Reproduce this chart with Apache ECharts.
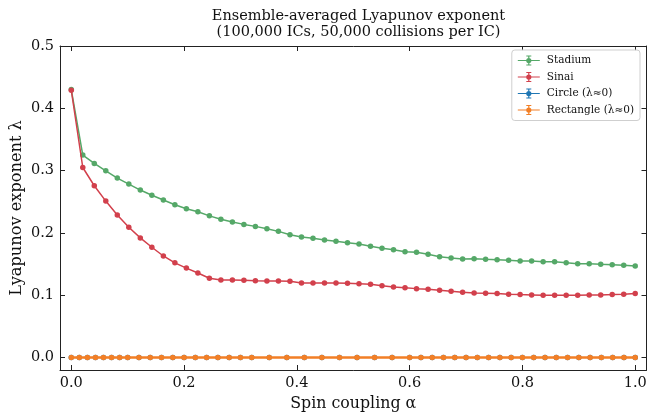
<!DOCTYPE html>
<html>
<head>
<meta charset="utf-8">
<script src="https://cdn.jsdelivr.net/npm/echarts@6/dist/echarts.min.js"></script>
<style>
  html, body { margin: 0; padding: 0; background: #fff; }
  #chart { width: 648px; height: 414px; }
</style>
</head>
<body>
<div id="chart"></div>
<script>
// Coupling grid for the chaotic tables (Stadium, Sinai)
const alphaChaotic = [
  0.0000, 0.0204, 0.0408, 0.0612, 0.0816, 0.1020, 0.1224, 0.1429, 0.1633, 0.1837,
  0.2041, 0.2245, 0.2449, 0.2653, 0.2857, 0.3061, 0.3265, 0.3469, 0.3673, 0.3878,
  0.4082, 0.4286, 0.4490, 0.4694, 0.4898, 0.5102, 0.5306, 0.5510, 0.5714, 0.5918,
  0.6122, 0.6327, 0.6531, 0.6735, 0.6939, 0.7143, 0.7347, 0.7551, 0.7755, 0.7959,
  0.8163, 0.8367, 0.8571, 0.8776, 0.8980, 0.9184, 0.9388, 0.9592, 0.9796, 1.0000
];

// Coupling grid for the integrable tables (Circle, Rectangle)
const alphaIntegrable = [
  0.0000, 0.0143, 0.0286, 0.0429, 0.0571, 0.0714, 0.0857, 0.1000,
  0.12, 0.14, 0.16, 0.18, 0.20, 0.22, 0.24, 0.26, 0.28, 0.30, 0.32,
  0.3511, 0.3822, 0.4133, 0.4444, 0.4756, 0.5067, 0.5378, 0.5689, 0.6000,
  0.62, 0.64, 0.66, 0.68, 0.70, 0.72, 0.74, 0.76, 0.78, 0.80,
  0.82, 0.84, 0.86, 0.88, 0.90, 0.92, 0.94, 0.96, 0.98, 1.00
];

const lambdaStadium = [
  0.430, 0.325, 0.3115, 0.2997, 0.2880, 0.2784, 0.2688, 0.2604, 0.2528, 0.2453,
  0.2388, 0.2340, 0.2274, 0.2218, 0.2175, 0.2137, 0.2105, 0.2067, 0.2025, 0.1971,
  0.1934, 0.1913, 0.1886, 0.1865, 0.1843, 0.1822, 0.1785, 0.1753, 0.1731, 0.1699,
  0.1689, 0.1657, 0.1619, 0.1598, 0.1582, 0.1587, 0.1577, 0.1571, 0.1561, 0.1550,
  0.1550, 0.1538, 0.1538, 0.1522, 0.1506, 0.1506, 0.1497, 0.1490, 0.1481, 0.1470
];

const lambdaSinai = [
  0.429, 0.305, 0.2757, 0.2511, 0.2287, 0.2090, 0.1920, 0.1770, 0.1630, 0.1520,
  0.1436, 0.1356, 0.1272, 0.1245, 0.1245, 0.1240, 0.1234, 0.1229, 0.1229, 0.1224,
  0.1197, 0.1197, 0.1197, 0.1197, 0.1192, 0.1186, 0.1176, 0.1154, 0.1133, 0.1122,
  0.1106, 0.1096, 0.1080, 0.1064, 0.1048, 0.1037, 0.1032, 0.1026, 0.1016, 0.1010,
  0.1005, 0.1000, 0.1000, 0.1000, 0.1000, 0.1005, 0.1005, 0.1010, 0.1016, 0.1026
];

const lambdaCircle = [
  0, 0, 0, 0, 0, 0, 0, 0, 0, 0, 0, 0, 0, 0, 0, 0, 0, 0, 0, 0, 0, 0, 0, 0,
  0, 0, 0, 0, 0, 0, 0, 0, 0, 0, 0, 0, 0, 0, 0, 0, 0, 0, 0, 0, 0, 0, 0, 0
];

const lambdaRectangle = [
  0, 0, 0, 0, 0, 0, 0, 0, 0, 0, 0, 0, 0, 0, 0, 0, 0, 0, 0, 0, 0, 0, 0, 0,
  0, 0, 0, 0, 0, 0, 0, 0, 0, 0, 0, 0, 0, 0, 0, 0, 0, 0, 0, 0, 0, 0, 0, 0
];

const xTicks = [0, 0.2, 0.4, 0.6, 0.8, 1.0];
const yTicks = [0, 0.1, 0.2, 0.3, 0.4, 0.5];

const seriesNames = ['Stadium', 'Sinai', 'Circle (λ≈0)', 'Rectangle (λ≈0)'];
const seriesColors = ['#55a868', '#d2404c', '#1f77b4', '#f27f26'];
const lineWidths = [1.5, 1.5, 1.0, 2.4];

const FONT = 'DejaVu Serif';
const AXIS_COLOR = '#222';

// Legend glyph: line, error bar with caps and a dot (22 x 10 box)
const errIcon = 'path://M0,4.4 L22,4.4 L22,5.6 L0,5.6 Z ' +
  'M10.4,0 L11.6,0 L11.6,10 L10.4,10 Z ' +
  'M8.5,0 L13.5,0 L13.5,1 L8.5,1 Z ' +
  'M8.5,9 L13.5,9 L13.5,10 L8.5,10 Z ' +
  'M13.6,5 A2.6,2.6 0 1,1 8.4,5 A2.6,2.6 0 1,1 13.6,5 Z';

function pairs(xs, ys) {
  return xs.map((x, i) => [x, ys[i]]);
}

function lineSeries(idx, xs, ys) {
  return {
    name: seriesNames[idx],
    type: 'line',
    data: pairs(xs, ys),
    color: seriesColors[idx],
    symbol: 'circle',
    symbolSize: 5.5,
    showSymbol: true,
    lineStyle: { width: lineWidths[idx], color: seriesColors[idx] },
    itemStyle: { color: seriesColors[idx] },
    emphasis: { disabled: true },
    z: 2 + idx
  };
}

function tickStyle() {
  return { color: AXIS_COLOR, width: 1 };
}

const frameAxis = (extra) => Object.assign({
  type: 'value',
  axisLine: { show: true, onZero: false, lineStyle: tickStyle() },
  splitLine: { show: false }
}, extra);

const chart = echarts.init(document.getElementById('chart'), null, { renderer: 'canvas' });

chart.setOption({
  animation: false,
  backgroundColor: '#ffffff',
  title: {
    text: 'Ensemble-averaged Lyapunov exponent\n(100,000 ICs, 50,000 collisions per IC)',
    left: 353.5,
    top: 3,
    textAlign: 'center',
    textStyle: { fontFamily: FONT, fontSize: 14.5, fontWeight: 'normal', color: '#111', lineHeight: 16 }
  },
  legend: {
    orient: 'vertical',
    right: 8,
    top: 50,
    padding: [5, 6, 5, 6],
    itemGap: 5.5,
    itemWidth: 22,
    itemHeight: 10,
    backgroundColor: 'rgba(255,255,255,0.9)',
    borderColor: '#cfcfcf',
    borderWidth: 1,
    borderRadius: 3,
    icon: errIcon,
    selectedMode: false,
    textStyle: { fontFamily: FONT, fontSize: 10.5, color: '#111', padding: [0, 0, 0, 2] },
    data: seriesNames
  },
  grid: {
    left: 60, right: 1.5, top: 46, bottom: 44,
    containLabel: false,
    outerBoundsMode: 'none'
  },
  xAxis: [
    frameAxis({
      position: 'bottom',
      min: -0.02,
      max: 1.02,
      name: 'Spin coupling α',
      nameLocation: 'middle',
      nameGap: 23,
      nameTextStyle: { fontFamily: FONT, fontSize: 15.8, color: '#111' },
      axisTick: { show: true, inside: true, length: 5, customValues: xTicks, lineStyle: tickStyle() },
      axisLabel: {
        show: true, customValues: xTicks, margin: 6,
        fontFamily: FONT, fontSize: 14.5, color: '#111',
        formatter: (v) => v.toFixed(1)
      }
    }),
    frameAxis({
      position: 'top',
      min: -0.02,
      max: 1.02,
      axisTick: { show: true, inside: true, length: 5, customValues: xTicks, lineStyle: tickStyle() },
      axisLabel: { show: false }
    })
  ],
  yAxis: [
    frameAxis({
      position: 'left',
      min: -0.02,
      max: 0.5,
      name: 'Lyapunov exponent λ',
      nameLocation: 'middle',
      nameGap: 35,
      nameMoveOverlap: false,
      nameTextStyle: { fontFamily: FONT, fontSize: 16.2, color: '#111' },
      axisTick: { show: true, inside: true, length: 5, customValues: yTicks, lineStyle: tickStyle() },
      axisLabel: {
        show: true, customValues: yTicks, margin: 6,
        fontFamily: FONT, fontSize: 14.5, color: '#111',
        formatter: (v) => v.toFixed(1)
      }
    }),
    frameAxis({
      position: 'right',
      min: -0.02,
      max: 0.5,
      axisTick: { show: true, inside: true, length: 5, customValues: yTicks, lineStyle: tickStyle() },
      axisLabel: { show: false }
    })
  ],
  series: [
    lineSeries(0, alphaChaotic, lambdaStadium),
    lineSeries(1, alphaChaotic, lambdaSinai),
    lineSeries(2, alphaIntegrable, lambdaCircle),
    lineSeries(3, alphaIntegrable, lambdaRectangle)
  ]
});
</script>
</body>
</html>
